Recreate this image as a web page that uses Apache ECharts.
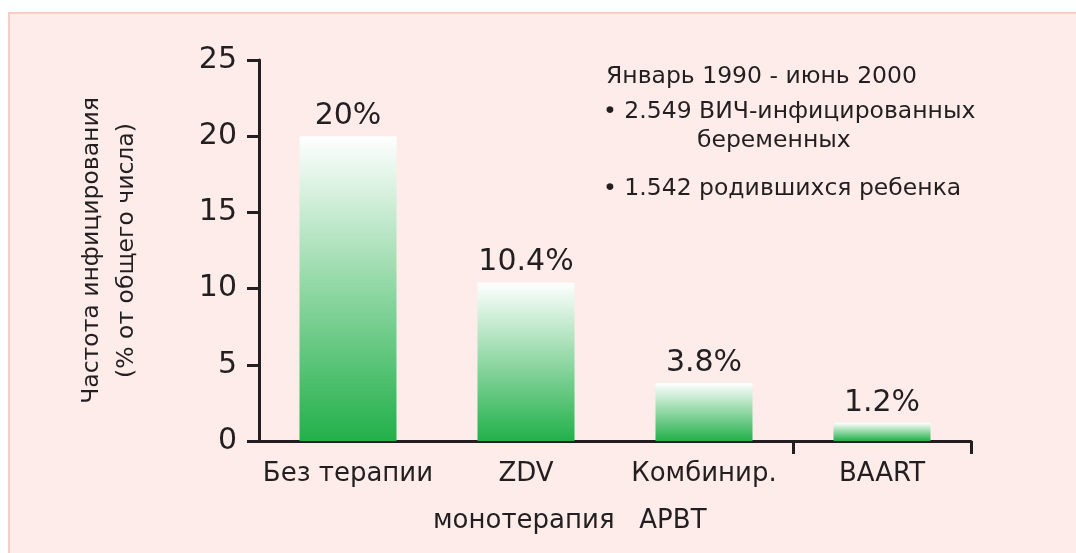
<!DOCTYPE html>
<html>
<head>
<meta charset="utf-8">
<script src="https://cdn.jsdelivr.net/npm/echarts@6/dist/echarts.min.js"></script>
<style>
  html, body { margin: 0; padding: 0; background: #ffffff; }
  #main { width: 1076px; height: 553px; }
</style>
</head>
<body>
<div id="main"></div>
<script>
  // данные
  const categories = ['Без терапии', 'ZDV', 'Комбинир.', 'BAART'];
  const rates = [20, 10.4, 3.8, 1.2];
  const yTicks = { min: 0, max: 25, interval: 5 };
  const groupTicks = [3, 4];

  const noteLines = [
    'Январь 1990 - июнь 2000',
    '• 2.549 ВИЧ-инфицированных',
    'беременных',
    '• 1.542 родившихся ребенка'
  ];

  const ink = '#231f20';
  const font = 'DejaVu Sans';
  const noteFont = '23.5px "DejaVu Sans"';

  let chart = echarts.init(document.getElementById('main'));

  let option = {
    animation: false,
    textStyle: { fontFamily: font, color: ink },
    grid: { left: 259, right: 105, top: 60, bottom: 112 },
    graphic: [
      {
        type: 'rect', z: -10, silent: true,
        shape: { x: 9, y: 13, width: 1100, height: 600 },
        style: { fill: '#fdece9', stroke: '#f8cdc6', lineWidth: 2 }
      },
      {
        type: 'text', left: 606, top: 65,
        style: { text: noteLines[0], font: noteFont, fill: ink }
      },
      {
        type: 'text', left: 603, top: 100,
        style: { text: noteLines[1], font: noteFont, fill: ink }
      },
      {
        type: 'text', left: 697, top: 129,
        style: { text: noteLines[2], font: noteFont, fill: ink }
      },
      {
        type: 'text', left: 603, top: 177,
        style: { text: noteLines[3], font: noteFont, fill: ink }
      },
      {
        type: 'text', left: 433, top: 508,
        style: { text: 'монотерапия   АРВТ', font: '26px "DejaVu Sans"', fill: ink }
      }
    ],
    xAxis: [
      {
        type: 'category',
        data: categories,
        position: 'bottom',
        axisLine: { lineStyle: { color: ink, width: 3 } },
        axisTick: { show: false },
        axisLabel: { interval: 0, color: ink, fontSize: 26, fontFamily: font, margin: 20 }
      },
      {
        type: 'value',
        position: 'bottom',
        min: 0,
        max: 4,
        axisLine: { show: false },
        axisLabel: { show: false },
        splitLine: { show: false },
        axisTick: {
          show: true,
          customValues: groupTicks,
          length: 13,
          lineStyle: { color: ink, width: 3 }
        }
      }
    ],
    yAxis: {
      type: 'value',
      min: yTicks.min,
      max: yTicks.max,
      interval: yTicks.interval,
      name: 'Частота инфицирования\n(% от общего числа)',
      nameLocation: 'middle',
      nameGap: 115,
      nameTextStyle: { fontSize: 23.5, fontFamily: font, color: ink, lineHeight: 35 },
      splitLine: { show: false },
      axisLine: { show: true, lineStyle: { color: ink, width: 3 } },
      axisTick: { show: true, length: 12, lineStyle: { color: ink, width: 3 } },
      axisLabel: { color: ink, fontSize: 30, fontFamily: font, margin: 22 }
    },
    series: [
      {
        type: 'bar',
        data: rates,
        barWidth: 97,
        itemStyle: {
          color: new echarts.graphic.LinearGradient(0, 0, 0, 1, [
            { offset: 0, color: '#ffffff' },
            { offset: 1, color: '#22b04a' }
          ])
        },
        label: {
          show: true,
          position: 'top',
          distance: 5,
          fontSize: 30,
          fontFamily: font,
          color: ink,
          formatter: function (p) { return p.value + '%'; }
        }
      }
    ]
  };

  chart.setOption(option);
</script>
</body>
</html>
